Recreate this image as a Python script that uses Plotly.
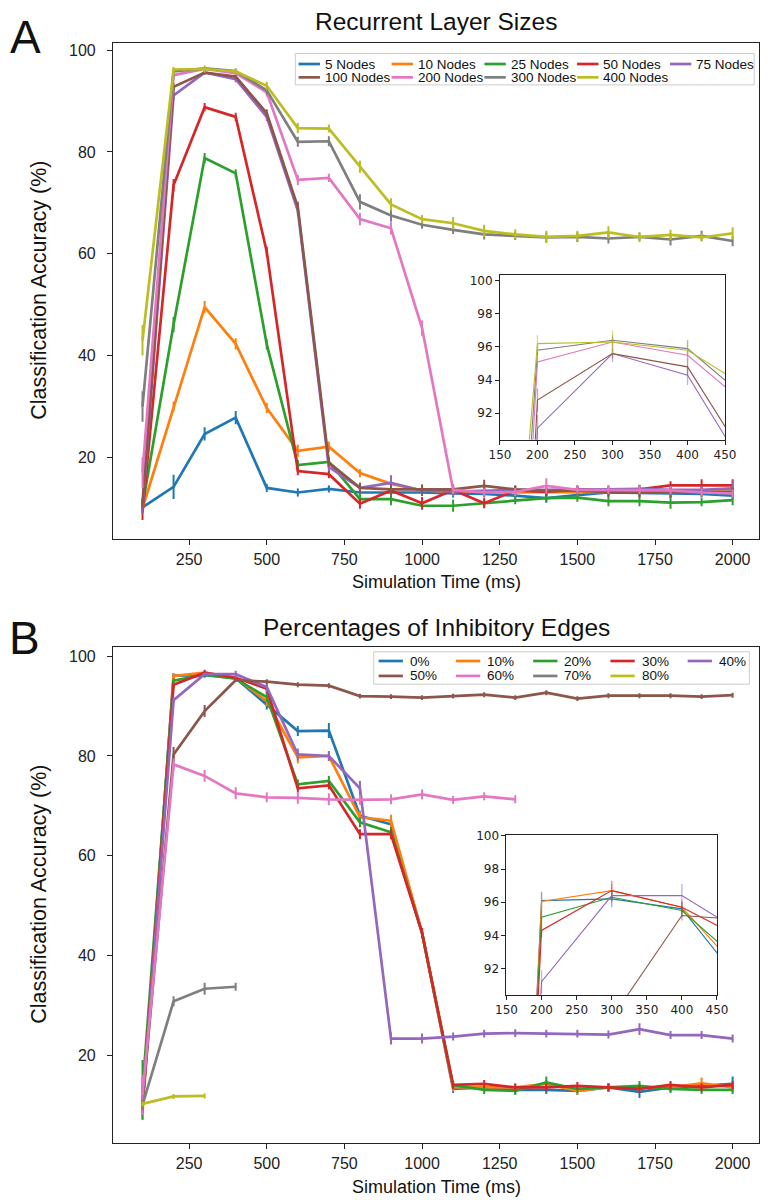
import plotly.graph_objects as go

W, H = 772, 1200

# ---------------- data ----------------
times = [100, 200, 300, 400, 500, 600, 700, 800, 900, 1000,
         1100, 1200, 1300, 1400, 1500, 1600, 1700, 1800, 1900, 2000]

# Panel A: recurrent layer sizes
size_names = ["5 Nodes", "10 Nodes", "25 Nodes", "50 Nodes", "75 Nodes",
              "100 Nodes", "200 Nodes", "300 Nodes", "400 Nodes"]
n5 = [10.2, 14.2, 24.6, 27.8, 14.0, 13.1, 13.8, 13.1, 13.1, 13.1, 12.9, 12.8, 12.5, 12.0, 12.6, 13.1, 13.0, 12.9, 12.8, 12.5]
n10 = [10.0, 30.0, 49.5, 42.3, 29.7, 21.3, 22.1, 16.9, 14.8, 13.5, 13.2, 13.3, 13.1, 13.2, 13.1, 13.2, 13.3, 13.1, 13.4, 13.2]
n25 = [10.5, 46.1, 78.8, 75.8, 42.2, 18.5, 19.1, 11.8, 11.8, 10.5, 10.5, 11.0, 11.6, 12.0, 12.1, 11.4, 11.4, 11.1, 11.2, 11.6]
n50 = [9.2, 73.5, 88.8, 86.9, 60.4, 17.3, 16.7, 10.9, 13.5, 11.0, 13.6, 11.0, 13.5, 13.2, 13.7, 13.5, 13.7, 14.5, 14.5, 14.5]
n75 = [10.0, 91.1, 95.6, 94.3, 86.9, 68.5, 18.1, 14.0, 15.0, 13.5, 13.3, 13.5, 13.6, 13.6, 13.6, 13.7, 13.8, 13.6, 13.6, 13.9]
n100 = [11.0, 92.8, 95.6, 94.8, 87.6, 69.2, 19.0, 14.0, 13.7, 13.7, 13.7, 14.4, 13.7, 13.4, 13.5, 13.1, 13.1, 13.1, 13.1, 13.3]
n200 = [17.0, 95.1, 96.3, 95.5, 91.7, 74.5, 74.9, 66.8, 65.0, 45.4, 13.6, 13.1, 13.2, 14.4, 13.6, 13.6, 13.6, 13.5, 13.1, 12.9]
n300 = [30.0, 95.8, 96.4, 95.9, 92.1, 82.0, 82.1, 70.2, 67.5, 65.7, 64.7, 63.8, 63.5, 63.2, 63.3, 63.0, 63.3, 62.8, 63.5, 62.5]
n400 = [43.0, 96.2, 96.3, 95.8, 93.0, 84.7, 84.6, 77.1, 69.7, 66.8, 66.0, 64.5, 63.8, 63.3, 63.5, 64.2, 63.3, 63.7, 63.2, 64.0]

e5 = [0.8, 2.4, 1.3, 1.3, 0.8, 0.8, 0.7, 0.7, 0.7, 0.7, 0.8, 0.7, 0.8, 0.9, 0.8, 0.8, 0.7, 0.8, 0.7, 0.8]
e10 = [1.0, 1.0, 1.2, 1.1, 1.0, 1.2, 1.0, 0.8, 0.8, 0.8, 0.8, 0.7, 0.8, 0.8, 0.8, 0.8, 0.8, 0.8, 0.8, 0.8]
e25 = [1.0, 1.5, 1.0, 0.8, 1.0, 1.0, 1.0, 1.2, 1.2, 0.8, 1.2, 0.8, 0.8, 0.8, 0.8, 1.0, 1.0, 1.2, 0.8, 1.0]
e50 = [1.5, 1.2, 0.8, 0.8, 1.0, 0.8, 0.8, 1.0, 0.8, 1.2, 0.8, 1.0, 0.8, 0.8, 0.8, 0.8, 0.8, 0.8, 1.2, 1.2]
e75 = [1.0, 0.8, 0.5, 0.6, 0.8, 1.0, 0.8, 1.0, 1.5, 0.8, 0.8, 0.8, 0.8, 0.8, 0.8, 0.8, 0.8, 0.8, 0.8, 1.5]
e100 = [1.0, 0.7, 0.3, 0.5, 0.8, 1.0, 0.8, 1.0, 1.0, 1.0, 1.0, 1.2, 0.8, 0.8, 0.8, 0.8, 1.0, 1.0, 0.8, 0.8]
e200 = [3.0, 0.3, 0.3, 0.3, 0.8, 1.0, 0.8, 1.2, 1.2, 1.5, 0.8, 0.8, 0.8, 1.5, 0.8, 0.8, 0.8, 0.8, 0.8, 0.8]
e300 = [3.0, 0.3, 0.3, 0.5, 0.8, 1.0, 1.0, 1.5, 1.2, 0.8, 0.8, 1.0, 0.8, 1.0, 1.0, 1.0, 0.8, 1.2, 1.0, 1.0]
e400 = [3.0, 0.5, 0.7, 0.6, 0.8, 1.0, 0.8, 1.2, 1.2, 0.8, 1.2, 1.2, 1.0, 1.2, 1.0, 1.2, 1.0, 1.0, 0.8, 1.2]

# Panel B: percentages of inhibitory edges
pct_names = ["0%", "10%", "20%", "30%", "40%", "50%", "60%", "70%", "80%"]
times60 = times[:13]
times70 = times[:4]
times80 = times[:3]
p0 = [10.0, 96.1, 96.2, 95.6, 90.3, 85.0, 85.1, 68.0, 66.3, 44.5, 13.2, 13.5, 13.0, 13.0, 12.8, 13.5, 12.6, 13.5, 13.8, 14.2]
p10 = [8.5, 96.05, 96.7, 95.7, 91.0, 79.7, 80.0, 67.7, 67.0, 44.5, 13.5, 13.5, 13.5, 14.2, 12.8, 13.5, 13.5, 13.5, 14.3, 13.5]
p20 = [13.0, 95.1, 96.3, 95.5, 91.8, 74.3, 75.0, 66.7, 64.7, 44.5, 14.0, 13.0, 12.8, 14.5, 13.2, 13.5, 13.8, 13.2, 13.0, 13.0]
p30 = [10.0, 94.3, 96.7, 95.7, 93.5, 73.5, 74.1, 64.3, 64.3, 44.5, 14.0, 14.2, 13.5, 13.5, 13.8, 13.5, 13.2, 14.0, 13.5, 14.0]
p40 = [10.0, 91.2, 96.4, 96.4, 93.8, 80.3, 80.0, 73.5, 23.3, 23.3, 23.7, 24.3, 24.4, 24.3, 24.3, 24.1, 25.2, 24.0, 24.0, 23.3]
p50 = [10.5, 80.3, 89.0, 95.2, 94.9, 94.3, 94.1, 92.0, 91.9, 91.7, 92.0, 92.3, 91.7, 92.7, 91.5, 92.1, 92.1, 92.1, 91.9, 92.2]
p60 = [12.0, 78.3, 76.0, 72.5, 71.7, 71.6, 71.3, 71.2, 71.3, 72.3, 71.2, 71.9, 71.3]
p70 = [10.0, 30.8, 33.3, 33.7]
p80 = [10.2, 11.7, 11.8]

ep0 = [1.5, 0.5, 0.5, 0.5, 1.0, 1.0, 1.5, 1.0, 1.0, 1.0, 0.8, 0.8, 0.8, 0.8, 0.8, 0.8, 1.2, 0.8, 0.8, 1.5]
ep10 = [1.5, 0.6, 0.4, 0.3, 1.0, 1.2, 1.0, 1.2, 1.2, 1.0, 0.8, 0.8, 0.8, 0.8, 0.8, 0.8, 0.8, 0.8, 1.2, 0.8]
ep20 = [6.0, 0.4, 0.3, 0.3, 1.0, 1.0, 1.0, 1.0, 1.0, 1.0, 0.8, 0.8, 0.8, 1.2, 0.8, 0.8, 1.0, 0.8, 0.8, 0.8]
ep30 = [1.5, 0.4, 0.6, 0.3, 0.8, 0.8, 0.8, 1.0, 1.0, 1.0, 0.8, 0.8, 0.8, 0.8, 0.8, 0.8, 0.8, 0.8, 0.8, 0.8]
ep40 = [1.5, 0.7, 0.3, 0.7, 1.0, 1.2, 1.0, 1.5, 1.2, 1.0, 0.8, 0.8, 0.8, 0.8, 0.8, 0.8, 1.2, 0.8, 0.8, 0.8]
ep50 = [1.0, 1.5, 1.2, 0.3, 0.5, 0.5, 0.5, 0.5, 0.5, 0.5, 0.5, 0.5, 0.5, 0.5, 0.5, 0.5, 0.5, 0.5, 0.5, 0.5]
ep60 = [4.0, 1.2, 1.2, 1.2, 1.0, 1.2, 1.2, 1.0, 1.0, 1.0, 0.8, 0.8, 0.8]
ep70 = [1.0, 1.0, 1.2, 0.8]
ep80 = [0.5, 0.5, 0.5]

colors = ["#1f77b4", "#ff7f0e", "#2ca02c", "#d62728", "#9467bd",
          "#8c564b", "#e377c2", "#7f7f7f", "#bcbd22"]

x_ticks = [250, 500, 750, 1000, 1250, 1500, 1750, 2000]
y_ticks = [20, 40, 60, 80, 100]
inset_x_ticks = [150, 200, 250, 300, 350, 400, 450]
inset_y_ticks = [92, 94, 96, 98, 100]

seriesA = list(zip(size_names, [times] * 9,
                   [n5, n10, n25, n50, n75, n100, n200, n300, n400],
                   [e5, e10, e25, e50, e75, e100, e200, e300, e400], colors))
seriesB = list(zip(pct_names,
                   [times, times, times, times, times, times, times60, times70, times80],
                   [p0, p10, p20, p30, p40, p50, p60, p70, p80],
                   [ep0, ep10, ep20, ep30, ep40, ep50, ep60, ep70, ep80], colors))

# ---------------- layout geometry (pixels) ----------------
def px_x(p):
    return p / W

def px_y(p):
    return 1 - p / H

MAIN_X = [px_x(105), px_x(770)]
A_Y = [px_y(536), px_y(36.7)]
B_Y = [px_y(1143), px_y(644)]
INA_X = [px_x(503.3), px_x(735)]
INA_Y = [px_y(436), px_y(270)]
INB_X = [px_x(510), px_x(726.7)]
INB_Y = [px_y(994), px_y(833.3)]

FONT = "Liberation Sans, Arial, sans-serif"
IFONT = "DejaVu Sans, sans-serif"

def rgba(h, a):
    h = h.lstrip('#')
    return "rgba(%d,%d,%d,%.2f)" % (int(h[0:2], 16), int(h[2:4], 16), int(h[4:6], 16), a)

fig = go.Figure()

def add_main(series, xa, ya):
    for name, xs, ys, es, c in series:
        fig.add_trace(go.Scatter(
            x=xs, y=ys, mode="lines", name=name,
            line=dict(color=c, width=2.7),
            error_y=dict(type="data", array=es, visible=True, width=0,
                         thickness=2, color=c),
            xaxis=xa, yaxis=ya, showlegend=False))

def add_inset(series, xa, ya):
    for name, xs, ys, es, c in series:
        fig.add_trace(go.Scatter(
            x=xs, y=ys, mode="lines", name=name,
            line=dict(color=c, width=1.1),
            error_y=dict(type="data", array=es, visible=True, width=0,
                         thickness=1.3, color=rgba(c, 0.55)),
            xaxis=xa, yaxis=ya, showlegend=False, hoverinfo="skip"))

add_main(seriesA, "x", "y")
add_main(seriesB, "x2", "y2")
add_inset(seriesA, "x3", "y3")
add_inset(seriesB, "x4", "y4")

main_axis = dict(showgrid=False, zeroline=False, showline=True, linecolor="#222",
                 linewidth=1.1, mirror=True, ticks="outside", ticklen=5,
                 tickwidth=1, tickcolor="#222",
                 tickfont=dict(family=FONT, size=16, color="#222"))
main_x = dict(main_axis, ticklabelstandoff=0)
main_y = dict(main_axis, ticklabelstandoff=8)
inset_axis = dict(showgrid=False, zeroline=False, showline=True, linecolor="#222",
                  linewidth=1, mirror=True, ticks="outside", ticklen=4,
                  tickwidth=1, tickcolor="#222",
                  tickfont=dict(family=IFONT, size=12, color="#222"))

fig.update_layout(
    width=W, height=H, margin=dict(l=0, r=0, t=0, b=0),
    paper_bgcolor="white", plot_bgcolor="white", showlegend=False,
    xaxis=dict(main_x, domain=MAIN_X, range=[5, 2085], tickvals=x_ticks, anchor="y"),
    yaxis=dict(main_y, domain=A_Y, range=[3.9, 101.5], tickvals=y_ticks, anchor="x"),
    xaxis2=dict(main_x, domain=MAIN_X, range=[5, 2085], tickvals=x_ticks, anchor="y2"),
    yaxis2=dict(main_y, domain=B_Y, range=[2.3, 101.9], tickvals=y_ticks, anchor="x2"),
    xaxis3=dict(inset_axis, domain=INA_X, range=[150, 450], tickvals=inset_x_ticks, anchor="y3"),
    yaxis3=dict(inset_axis, domain=INA_Y, range=[90.4, 100.36], tickvals=inset_y_ticks, anchor="x3"),
    xaxis4=dict(inset_axis, domain=INB_X, range=[150, 450], tickvals=inset_x_ticks, anchor="y4"),
    yaxis4=dict(inset_axis, domain=INB_Y, range=[90.4, 100.05], tickvals=inset_y_ticks, anchor="x4"),
)

ann = []
shapes = []

def text(s, x, y, size, angle=0, fam=FONT, xanchor="center"):
    ann.append(dict(text=s, x=px_x(x), y=px_y(y), xref="paper", yref="paper",
                    showarrow=False, xanchor=xanchor, yanchor="middle",
                    textangle=angle, font=dict(family=fam, size=size, color="#111")))

# legend boxes (matplotlib-style frame) and entries
def legend(names, box, col_x, rows_y, sample_len, text_off, size):
    x0, y0, x1, y1 = box
    shapes.append(dict(type="rect", xref="paper", yref="paper",
                       x0=px_x(x0), x1=px_x(x1), y0=px_y(y1), y1=px_y(y0),
                       line=dict(color="#cccccc", width=1),
                       fillcolor="rgba(255,255,255,0.8)", layer="above"))
    for i, name in enumerate(names):
        cx = col_x[i % 5]
        ry = rows_y[i // 5]
        shapes.append(dict(type="line", xref="paper", yref="paper",
                           x0=px_x(cx), x1=px_x(cx + sample_len),
                           y0=px_y(ry), y1=px_y(ry),
                           line=dict(color=colors[i], width=2.7), layer="above"))
        text(name, cx + text_off, ry, size, xanchor="left")

legend(size_names, (292.7, 47.7, 765, 79.3),
       [296, 391.7, 487.3, 582.7, 678.3], [58.3, 71.7], 22, 25, 13.5)
legend(pct_names, (373.4, 649, 760, 681.6),
       [378.4, 458, 537.5, 617, 696.5], [658.3, 673.3], 25, 30, 13.5)

text("Recurrent Layer Sizes", 437.5, 16, 24.5)
text("Percentages of Inhibitory Edges", 437.5, 625, 24.5)
text("Simulation Time (ms)", 437.5, 579, 18)
text("Simulation Time (ms)", 437.5, 1187, 18)
text("Classification Accuracy (%)", 28, 286, 21.5, -90)
text("Classification Accuracy (%)", 28, 893, 21.5, -90)
text("A", 15, 31, 46)
text("B", 14, 635, 46)
fig.update_layout(annotations=ann, shapes=shapes)

fig.write_html("out.html")
